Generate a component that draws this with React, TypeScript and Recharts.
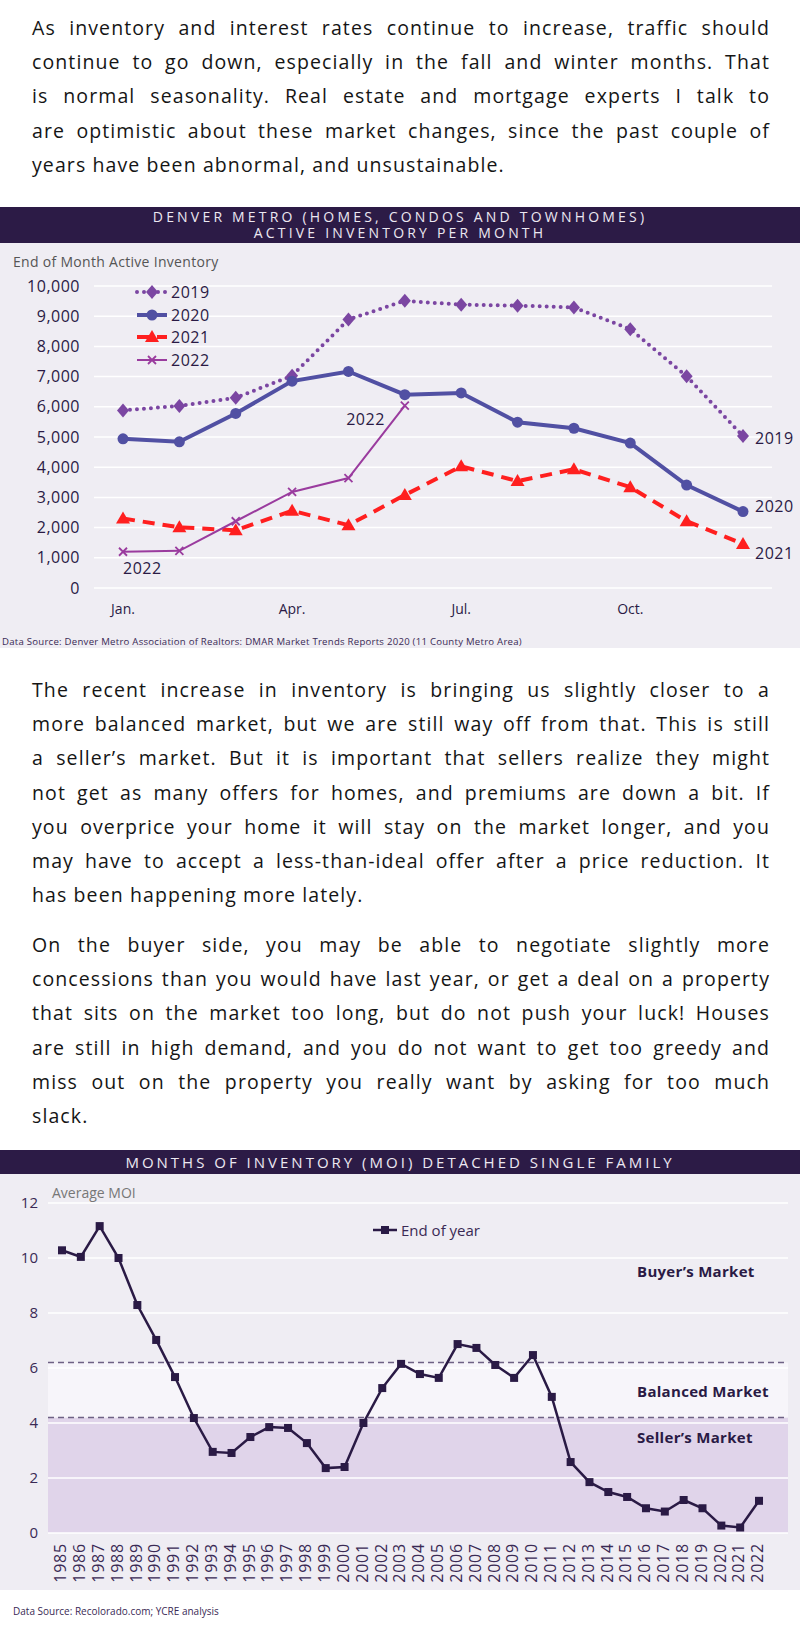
import React from "react";
import {
  LineChart,
  Line,
  XAxis,
  YAxis,
  CartesianGrid,
  Legend,
  ReferenceArea,
  ReferenceLine,
  Label,
} from "recharts";

// ---- chart 1: active inventory per month ----
const months = ["Jan.", "Feb.", "Mar.", "Apr.", "May", "Jun.", "Jul.", "Aug.", "Sep.", "Oct.", "Nov.", "Dec."];
const inv2019 = [5880, 6030, 6300, 7030, 8890, 9510, 9380, 9350, 9290, 8570, 7010, 5030];
const inv2020 = [4940, 4840, 5780, 6850, 7170, 6400, 6460, 5490, 5290, 4800, 3410, 2530];
const inv2021 = [2300, 2010, 1910, 2560, 2080, 3080, 4030, 3540, 3930, 3340, 2210, 1460];
const inv2022 = [1200, 1230, 2210, 3180, 3640, 6040];
const invTicks = [0, 1000, 2000, 3000, 4000, 5000, 6000, 7000, 8000, 9000, 10000];

// ---- chart 2: months of inventory ----
const years = [
  1985, 1986, 1987, 1988, 1989, 1990, 1991, 1992, 1993, 1994, 1995, 1996, 1997,
  1998, 1999, 2000, 2001, 2002, 2003, 2004, 2005, 2006, 2007, 2008, 2009, 2010,
  2011, 2012, 2013, 2014, 2015, 2016, 2017, 2018, 2019, 2020, 2021, 2022,
];
const moi = [
  10.28, 10.04, 11.16, 10.0, 8.29, 7.02, 5.67, 4.18, 2.95, 2.91, 3.49, 3.85, 3.82,
  3.27, 2.36, 2.4, 4.0, 5.27, 6.15, 5.78, 5.64, 6.87, 6.73, 6.11, 5.64, 6.47,
  4.95, 2.58, 1.85, 1.49, 1.31, 0.9, 0.78, 1.2, 0.9, 0.27, 0.2, 1.17,
];
const moiTicks = [0, 2, 4, 6, 8, 10, 12];
const sellerMax = 4.2;
const balancedMax = 6.2;

const invData = months.map((m, i) => ({
  month: m,
  y2019: inv2019[i],
  y2020: inv2020[i],
  y2021: inv2021[i],
  y2022: i < inv2022.length ? inv2022[i] : null,
}));
const moiData = years.map((y, i) => ({ year: y, moi: moi[i] }));

const DARK = "#2c1b46";
const INK = "#2a1a45";
const BG = "#efedf3";
const C2019 = "#7b46a2";
const C2020 = "#5150a3";
const C2021 = "#ff1f1f";
const C2022 = "#9a3b9e";
const FONT = "'Open Sans', sans-serif";

const Diamond = (p: any) =>
  p.cx == null ? <g /> : (
    <path d={`M${p.cx},${p.cy - 7} L${p.cx + 6},${p.cy} L${p.cx},${p.cy + 7} L${p.cx - 6},${p.cy} Z`} fill={C2019} />
  );
const Circle = (p: any) =>
  p.cx == null ? <g /> : <circle cx={p.cx} cy={p.cy} r={5.5} fill={C2020} />;
const Tri = (p: any) =>
  p.cx == null ? <g /> : (
    <path d={`M${p.cx},${p.cy - 7} L${p.cx + 7},${p.cy + 5} L${p.cx - 7},${p.cy + 5} Z`} fill={C2021} />
  );
const Cross = (p: any) =>
  p.cx == null || p.value == null ? <g /> : (
    <path d={`M${p.cx - 4},${p.cy - 4} L${p.cx + 4},${p.cy + 4} M${p.cx + 4},${p.cy - 4} L${p.cx - 4},${p.cy + 4}`} stroke={C2022} strokeWidth={1.8} />
  );
const Square = (p: any) =>
  p.cx == null ? <g /> : <rect x={p.cx - 4} y={p.cy - 4} width={8} height={8} fill={INK} />;

const endLabel = (text: string, idx: number, dx: number, dy: number, anchor: string) => (p: any) =>
  p.index === idx ? (
    <text x={p.x + dx} y={p.y + dy} textAnchor={anchor} dominantBaseline="middle" fontSize={16} fill={INK} fontFamily={FONT} letterSpacing={0.5}>
      {text}
    </text>
  ) : (
    <g />
  );

const label2022 = (p: any) => {
  if (p.index === 0)
    return (
      <text x={p.x} y={p.y + 18} textAnchor="start" dominantBaseline="middle" fontSize={16} fill={INK} fontFamily={FONT} letterSpacing={0.5}>
        2022
      </text>
    );
  if (p.index === 5)
    return (
      <text x={p.x - 20} y={p.y + 15} textAnchor="end" dominantBaseline="middle" fontSize={16} fill={INK} fontFamily={FONT} letterSpacing={0.5}>
        2022
      </text>
    );
  return <g />;
};

const legendStyles: Record<string, { dash?: string; width: number; marker: string; color: string }> = {
  y2019: { dash: "0 7", width: 4, marker: "diamond", color: C2019 },
  y2020: { width: 4, marker: "circle", color: C2020 },
  y2021: { dash: "12 8", width: 4, marker: "tri", color: C2021 },
  y2022: { width: 2, marker: "cross", color: C2022 },
};

const InvLegend = (props: any) => (
  <div style={{ fontFamily: FONT, fontSize: 16, color: INK, letterSpacing: 0.5 }}>
    {props.payload.map((e: any) => {
      const s = legendStyles[e.dataKey];
      return (
        <div key={e.dataKey} style={{ display: "flex", alignItems: "center", height: 22.5 }}>
          <svg width={34} height={20}>
            <line x1={2} y1={10} x2={32} y2={10} stroke={s.color} strokeWidth={s.width} strokeDasharray={s.dash} strokeLinecap={s.dash === "0 7" ? "round" : "butt"} />
            {s.marker === "diamond" && <path d="M17,3 L23,10 L17,17 L11,10 Z" fill={s.color} />}
            {s.marker === "circle" && <circle cx={17} cy={10} r={5.5} fill={s.color} />}
            {s.marker === "tri" && <path d="M17,3 L24,15 L10,15 Z" fill={s.color} />}
            {s.marker === "cross" && <path d="M13,6 L21,14 M21,6 L13,14" stroke={s.color} strokeWidth={1.8} />}
          </svg>
          <span style={{ marginLeft: 2 }}>{e.value}</span>
        </div>
      );
    })}
  </div>
);

const MoiLegend = () => (
  <div style={{ fontFamily: FONT, fontSize: 15, color: "#3a2a55", display: "flex", alignItems: "center" }}>
    <svg width={26} height={16}>
      <line x1={0} y1={8} x2={24} y2={8} stroke={INK} strokeWidth={2.5} />
      <rect x={8} y={4} width={8} height={8} fill={INK} />
    </svg>
    <span style={{ marginLeft: 2 }}>End of year</span>
  </div>
);

const YearTick = (p: any) => (
  <g transform={`translate(${p.x},${p.y + 4})`}>
    <text transform="rotate(-90)" textAnchor="end" dominantBaseline="middle" fontSize={16} fill="#3a2a55" fontFamily={FONT} letterSpacing={0.8}>
      {p.payload.value}
    </text>
  </g>
);

const marketLabel = (text: string, dy: number) => (p: any) => {
  const vb = p.viewBox || {};
  return (
    <text x={vb.x + vb.width - 151} y={vb.y + dy} dominantBaseline="middle" fontSize={15} fontWeight={700} fill={INK} fontFamily={FONT} letterSpacing={0.3}>
      {text}
    </text>
  );
};

const Para = ({ lines, top }: { lines: string[]; top: number }) => (
  <div style={{ position: "absolute", left: 32, top, width: 738, fontFamily: FONT, fontSize: 19.5, letterSpacing: 1.1, lineHeight: "34.2px", color: "#151515" }}>
    {lines.map((l, i) => (
      <div key={i} style={{ textAlign: "justify", textAlignLast: i === lines.length - 1 ? "left" : "justify", whiteSpace: "nowrap" }}>
        {l}
      </div>
    ))}
  </div>
);

const TitleBar = ({ top, height, lines, size, spacing }: { top: number; height: number; lines: string[]; size: number; spacing: number }) => (
  <div
    style={{
      position: "absolute", left: 0, top, width: 800, height, background: DARK, color: "#ece8f2",
      fontFamily: FONT, fontSize: size, letterSpacing: spacing, lineHeight: "16px", textAlign: "center",
      display: "flex", flexDirection: "column", justifyContent: "center",
    }}
  >
    {lines.map((l) => (
      <div key={l}>{l}</div>
    ))}
  </div>
);

export default function App() {
  return (
    <div style={{ position: "absolute", left: 0, top: 0, width: 800, height: 1627, background: "#fff", overflow: "hidden" }}>
      <Para
        top={11}
        lines={[
          "As inventory and interest rates continue to increase, traffic should",
          "continue to go down, especially in the fall and winter months. That",
          "is normal seasonality. Real estate and mortgage experts I talk to",
          "are optimistic about these market changes, since the past couple of",
          "years have been abnormal, and unsustainable.",
        ]}
      />

      <TitleBar top={207} height={36} size={14} spacing={3.2} lines={["DENVER METRO (HOMES, CONDOS AND TOWNHOMES)", "ACTIVE INVENTORY PER MONTH"]} />
      <div style={{ position: "absolute", left: 0, top: 243, width: 800, height: 405, background: BG }}>
        <div style={{ position: "absolute", left: 13, top: 9, fontFamily: FONT, fontSize: 14, color: "#555", letterSpacing: 0.3 }}>
          End of Month Active Inventory
        </div>
        <LineChart width={800} height={390} data={invData} margin={{ top: 43, right: 28, bottom: 15, left: 0 }}>
          <CartesianGrid vertical={false} stroke="#ffffff" strokeWidth={1.5} />
          <XAxis
            dataKey="month"
            interval={2}
            axisLine={false}
            tickLine={false}
            tickSize={0}
            tickMargin={16}
            padding={{ left: 29, right: 29 }}
            tick={{ fontSize: 14, fill: INK, fontFamily: FONT }}
          />
          <YAxis
            width={94}
            domain={[0, 10000]}
            ticks={invTicks}
            axisLine={false}
            tickLine={false}
            tickSize={0}
            tickMargin={14}
            tickFormatter={(v: number) => v.toLocaleString("en-US")}
            tick={{ fontSize: 16, fill: INK, fontFamily: FONT, letterSpacing: 0.5 }}
          />
          <Legend
            layout="vertical"
            verticalAlign="middle"
            align="center"
            content={InvLegend}
            wrapperStyle={{ left: 135, top: 38, width: 120 }}
          />
          <Line dataKey="y2019" name="2019" stroke={C2019} strokeWidth={4} strokeDasharray="0 7" strokeLinecap="round" dot={Diamond} activeDot={false} label={endLabel("2019", 11, 12, 4, "start")} isAnimationActive={false} />
          <Line dataKey="y2020" name="2020" stroke={C2020} strokeWidth={4} dot={Circle} activeDot={false} label={endLabel("2020", 11, 12, -4, "start")} isAnimationActive={false} />
          <Line dataKey="y2021" name="2021" stroke={C2021} strokeWidth={4} strokeDasharray="12 8" dot={Tri} activeDot={false} label={endLabel("2021", 11, 12, 11, "start")} isAnimationActive={false} />
          <Line dataKey="y2022" name="2022" stroke={C2022} strokeWidth={2} dot={Cross} activeDot={false} label={label2022} isAnimationActive={false} />
        </LineChart>
        <div style={{ position: "absolute", left: 2, top: 392, fontFamily: FONT, fontSize: 9.6, letterSpacing: 0.25, color: "#3a2a55" }}>
          Data Source: Denver Metro Association of Realtors: DMAR Market Trends Reports 2020 (11 County Metro Area)
        </div>
      </div>

      <Para
        top={673}
        lines={[
          "The recent increase in inventory is bringing us slightly closer to a",
          "more balanced market, but we are still way off from that. This is still",
          "a seller’s market. But it is important that sellers realize they might",
          "not get as many offers for homes, and premiums are down a bit. If",
          "you overprice your home it will stay on the market longer, and you",
          "may have to accept a less-than-ideal offer after a price reduction. It",
          "has been happening more lately.",
        ]}
      />
      <Para
        top={928}
        lines={[
          "On the buyer side, you may be able to negotiate slightly more",
          "concessions than you would have last year, or get a deal on a property",
          "that sits on the market too long, but do not push your luck! Houses",
          "are still in high demand, and you do not want to get too greedy and",
          "miss out on the property you really want by asking for too much",
          "slack.",
        ]}
      />

      <TitleBar top={1150} height={24} size={15} spacing={3} lines={["MONTHS OF INVENTORY (MOI) DETACHED SINGLE FAMILY"]} />
      <div style={{ position: "absolute", left: 0, top: 1174, width: 800, height: 416, background: BG }}>
        <div style={{ position: "absolute", left: 52, top: 9, fontFamily: FONT, fontSize: 14, color: "#777" }}>Average MOI</div>
        <LineChart width={800} height={416} data={moiData} margin={{ top: 29, right: 12, bottom: 7, left: 0 }}>
          <ReferenceArea y1={0} y2={sellerMax} fill="#e0d4ea" fillOpacity={1} stroke="none">
            <Label content={marketLabel("Seller’s Market", 21)} />
          </ReferenceArea>
          <ReferenceArea y1={sellerMax} y2={balancedMax} fill="#f7f5fa" fillOpacity={1} stroke="none">
            <Label content={marketLabel("Balanced Market", 30)} />
          </ReferenceArea>
          <ReferenceArea y1={balancedMax} y2={12} fill="none" fillOpacity={0} stroke="none">
            <Label content={marketLabel("Buyer’s Market", 70)} />
          </ReferenceArea>
          {/* horizontal grid drawn as reference lines so it sits above the shaded zones */}
          {moiTicks.map((t) => (
            <ReferenceLine key={t} y={t} stroke="#ffffff" strokeWidth={1.5} />
          ))}
          <ReferenceLine y={balancedMax} stroke="#6e6184" strokeDasharray="6 4" strokeWidth={1.5} />
          <ReferenceLine y={sellerMax} stroke="#6e6184" strokeDasharray="6 4" strokeWidth={1.5} />
          <XAxis
            dataKey="year"
            type="number"
            domain={[1984.257, 2023.539]}
            ticks={years}
            interval={0}
            allowDataOverflow
            axisLine={false}
            tickLine={false}
            tickSize={0}
            tickMargin={6}
            height={50}
            tick={YearTick}
          />
          <YAxis
            width={48}
            domain={[0, 12]}
            ticks={moiTicks}
            axisLine={false}
            tickLine={false}
            tickSize={0}
            tickMargin={10}
            tick={{ fontSize: 15, fill: "#3a2a55", fontFamily: FONT }}
          />
          <Legend content={MoiLegend} verticalAlign="middle" align="center" layout="vertical" wrapperStyle={{ left: 373, top: 46, width: 140 }} />
          <Line dataKey="moi" name="End of year" stroke={INK} strokeWidth={2.5} dot={Square} activeDot={false} isAnimationActive={false} />
        </LineChart>
        <div style={{ position: "absolute", left: 13, top: 430, fontFamily: FONT, fontSize: 10, color: "#3a2a55" }}>
          Data Source: Recolorado.com; YCRE analysis
        </div>
      </div>
    </div>
  );
}
